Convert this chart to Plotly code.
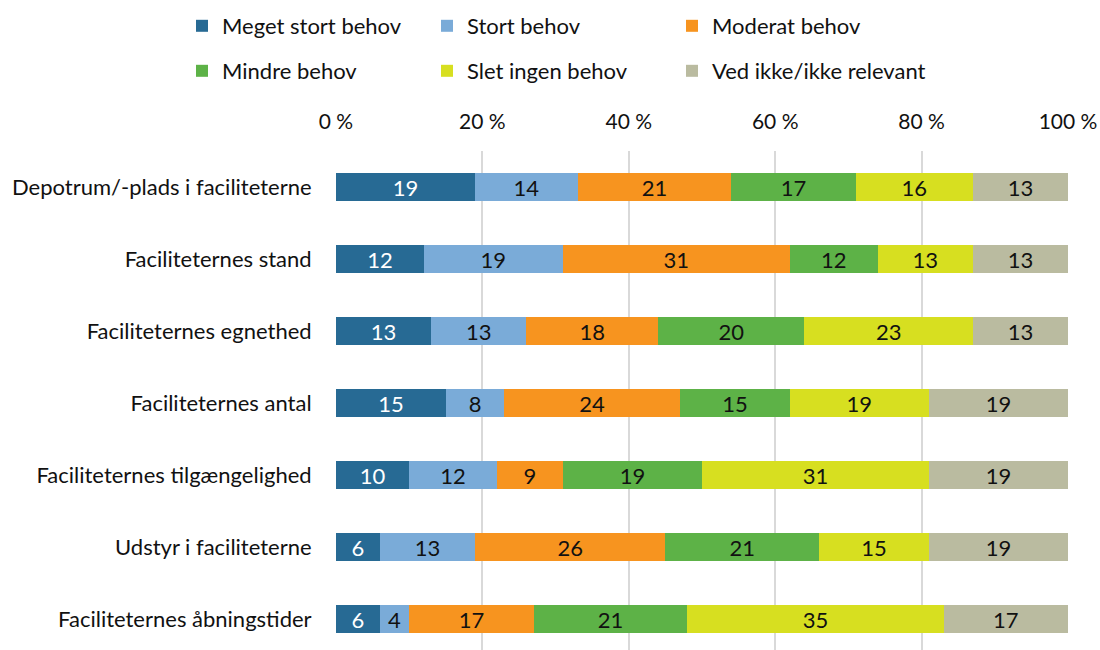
import plotly.graph_objects as go

categories = [
    "Depotrum/-plads i faciliteterne",
    "Faciliteternes stand",
    "Faciliteternes egnethed",
    "Faciliteternes antal",
    "Faciliteternes tilgængelighed",
    "Udstyr i faciliteterne",
    "Faciliteternes åbningstider",
]
series_names = [
    "Meget stort behov",
    "Stort behov",
    "Moderat behov",
    "Mindre behov",
    "Slet ingen behov",
    "Ved ikke/ikke relevant",
]
meget_stort = [19, 12, 13, 15, 10, 6, 6]
stort = [14, 19, 13, 8, 12, 13, 4]
moderat = [21, 31, 18, 24, 9, 26, 17]
mindre = [17, 12, 20, 15, 19, 21, 21]
slet_ingen = [16, 13, 23, 19, 31, 15, 35]
ved_ikke = [13, 13, 13, 19, 19, 19, 17]
tick_vals = [0, 20, 40, 60, 80, 100]
tick_text = ["0 %", "20 %", "40 %", "60 %", "80 %", "100 %"]

values = [meget_stort, stort, moderat, mindre, slet_ingen, ved_ikke]
colors = ["#276A94", "#7AABD8", "#F7941F", "#5DB247", "#D7DF20", "#BABBA0"]
text_colors = ["white", "#111111", "#111111", "#111111", "#111111", "#111111"]
FONT = "Lato"
FS = 22
W, H = 1100, 650
TOP = 151

# legend grouping: two rows, third column in its own legends (so long text isn't clipped)
legend_ids = ["legend", "legend", "legend3", "legend2", "legend2", "legend4"]

fig = go.Figure()
for i, (name, vals) in enumerate(zip(series_names, values)):
    fig.add_trace(go.Bar(
        y=categories, x=vals, name=name, orientation="h",
        marker=dict(color=colors[i], line=dict(width=0)),
        text=[str(v) for v in vals], textposition="inside",
        insidetextanchor="middle", textangle=0,
        textfont=dict(color=text_colors[i], size=FS, family=FONT),
        legend=legend_ids[i],
        hoverinfo="x+y+name",
    ))

def leg(x_px, y_px, ew=None):
    d = dict(orientation="h", x=x_px / W, y=1 - y_px / H, xref="container", yref="container",
             xanchor="left", yanchor="middle",
             font=dict(size=FS, family=FONT), traceorder="normal")
    if ew:
        d.update(entrywidth=ew, entrywidthmode="pixels")
    return d

fig.update_layout(
    width=W, height=H,
    barmode="stack", bargap=0.6,
    margin=dict(l=336, r=32, t=TOP, b=0),
    plot_bgcolor="white", paper_bgcolor="white",
    font=dict(family=FONT, size=FS, color="#111111"),
    uniformtext=dict(minsize=FS, mode="show"),
    legend=leg(182, 26, 200),
    legend2=leg(182, 71, 200),
    legend3=leg(182 + 490, 26),
    legend4=leg(182 + 490, 71),
)
fig.update_xaxes(
    side="top", range=[0, 100], tickvals=tick_vals, ticktext=tick_text,
    showgrid=True, gridcolor="#D9D9D9", gridwidth=2, zeroline=False,
    ticks="outside", ticklen=13, tickcolor="rgba(0,0,0,0)", showline=False,
    tickfont=dict(size=21, family=FONT),
)
fig.update_yaxes(
    categoryorder="array", categoryarray=categories,
    range=[-0.5 + (H - TOP) / 72, -0.5], showgrid=False, zeroline=False, showline=False,
    ticks="outside", ticklen=19, tickcolor="rgba(0,0,0,0)",
    tickfont=dict(size=FS, family=FONT),
)
fig.write_html(
    "out.html",
    config={"displayModeBar": False},
    post_script="document.body.style.margin='0';document.body.style.overflow='hidden';",
)
